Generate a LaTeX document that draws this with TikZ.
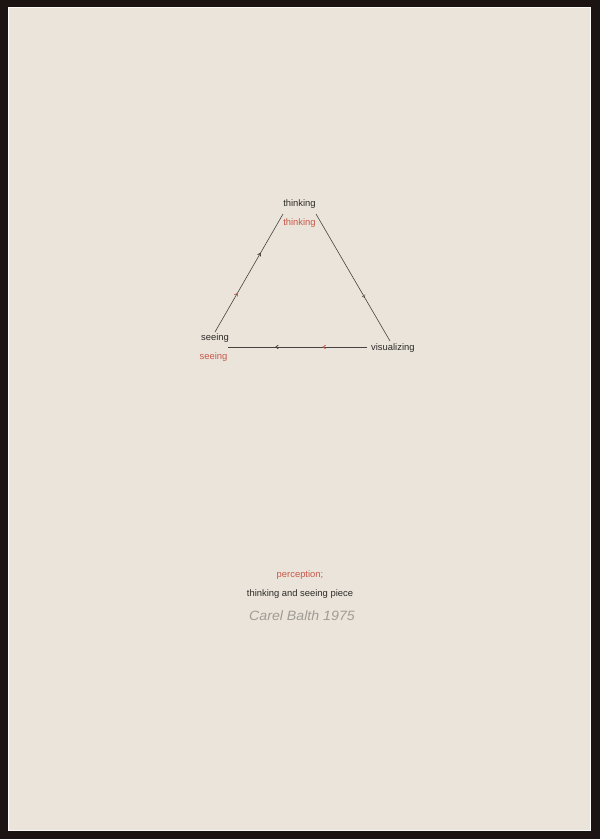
\documentclass[tikz,border=0pt]{standalone}
\usepackage{fontspec}
\setmainfont{Liberation Sans}
\usetikzlibrary{arrows.meta,decorations.markings}
\definecolor{paper}{RGB}{234,228,218}
\definecolor{frame}{RGB}{28,20,18}
\definecolor{redtxt}{RGB}{200,88,74}
\definecolor{blktxt}{RGB}{45,42,40}
\definecolor{linec}{RGB}{70,66,62}
\definecolor{sig}{RGB}{160,156,150}
\tikzset{
  lbl/.style={inner sep=0pt, font=\fontsize{9.4}{10}\selectfont, text=blktxt},
  rlbl/.style={lbl, text=redtxt},
  edge/.style={draw=linec, line width=0.6pt},
  tipb/.style={decoration={markings, mark=at position #1 with {\arrow[linec]{Straight Barb[length=2.5pt,width=3.4pt,line width=0.5pt]}}}, postaction={decorate}},
  tipr/.style={decoration={markings, mark=at position #1 with {\arrow[redtxt]{Straight Barb[length=2.5pt,width=3.4pt,line width=0.5pt]}}}, postaction={decorate}}
}
\begin{document}
\begin{tikzpicture}[x=1pt,y=-1pt]
\useasboundingbox (0,0) rectangle (600,839);
\fill[frame] (0,0) rectangle (600,839);
\fill[paper] (8,7) rectangle (591,831);
\draw[white!80!paper, line width=0.6pt] (8.3,7.3) rectangle (590.7,830.7);
% labels
\node[lbl] (th) at (299.5,204.5) {thinking};
\node[rlbl] (thr) at (299.5,223.5) {thinking};
\node[lbl] (se) at (215,338.5) {seeing};
\node[rlbl] (ser) at (213.5,357.5) {seeing};
\node[lbl, anchor=west] (vi) at (371,348.5) {visualizing};
% line ends
\coordinate (sA) at (215,332);
\coordinate (tA) at (283,214);
\coordinate (tB) at (316,214);
\coordinate (vB) at (390,341);
\coordinate (vC) at (367,347);
\coordinate (sC) at (228,347);
\draw[edge, tipr=0.33, tipb=0.67] (sA) -- (tA);
\draw[edge, tipb=0.66] (tB) -- (vB);
\draw[edge, tipr=0.32, tipb=0.66] (vC) -- (sC);
% bottom text
\node[rlbl] (pe) at (300,575.5) {perception;};
\node[lbl] (tsp) at (300,594.5) {thinking and seeing piece};
\node[inner sep=0pt, text=sig, font=\itshape\fontsize{13.5}{14}\selectfont, xscale=1.05] (sg) at (302,616) {Carel Balth 1975};
\end{tikzpicture}
\end{document}
